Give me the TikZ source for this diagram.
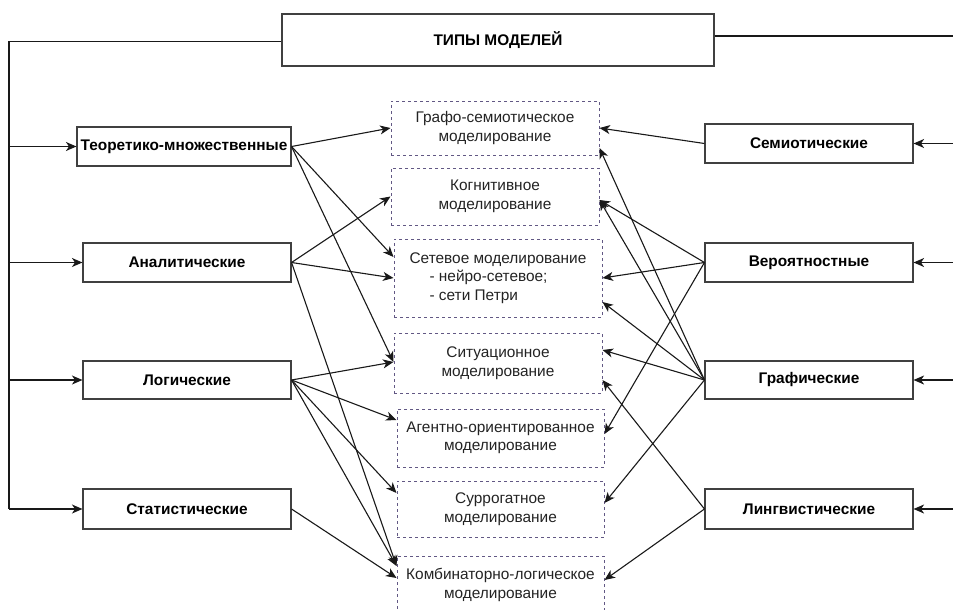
\documentclass[tikz,border=0pt]{standalone}
\usepackage{fontspec}
\setmainfont{Liberation Sans}
\usetikzlibrary{arrows.meta}
\definecolor{dashc}{RGB}{98,88,132}
\definecolor{txtc}{RGB}{35,35,35}
\definecolor{linec}{RGB}{25,25,25}
\begin{document}
\begin{tikzpicture}[x=1pt,y=-1pt,
 box/.style={draw=black!75, line width=1.1pt, font=\fontsize{15.4}{17}\selectfont\bfseries, inner sep=0pt},
 dbox/.style={draw=dashc, line width=1pt, dash pattern=on 3pt off 3pt, text=txtc, font=\fontsize{15.4}{18.5}\selectfont, align=center, inner sep=0pt},
 arr/.style={-{Stealth[length=10.5pt,width=9pt,inset=3pt]}, line width=1.1pt, draw=linec},
 ln/.style={line width=1.1pt, draw=linec}]
\useasboundingbox (0,0) rectangle (953,610);
\clip (0,0) rectangle (953,610);

% top
\node[box, minimum width=432pt, minimum height=52pt] (top) at (498,40) {ТИПЫ МОДЕЛЕЙ};

% left boxes
\node[box, minimum width=214pt, minimum height=39pt] (teo) at (184,146.5) {Теоретико-множественные};
\node[box, minimum width=208pt, minimum height=39pt] (ana) at (187,262.5) {Аналитические};
\node[box, minimum width=208pt, minimum height=38pt] (log) at (187,380) {Логические};
\node[box, minimum width=208pt, minimum height=40pt] (sta) at (187,509) {Статистические};

% right boxes
\node[box, minimum width=208pt, minimum height=39pt] (sem) at (809,143.5) {Семиотические};
\node[box, minimum width=208pt, minimum height=39pt] (ver) at (809,262.5) {Вероятностные};
\node[box, minimum width=208pt, minimum height=38pt] (gra) at (809,380) {Графические};
\node[box, minimum width=208pt, minimum height=40pt] (lin) at (809,509) {Лингвистические};

% middle dashed boxes
\node[dbox, minimum width=208pt, minimum height=54pt] (m1) at (495,128) {Графо-семиотическое\\моделирование};
\node[dbox, minimum width=208pt, minimum height=57pt] (m2) at (495,196.5) {Когнитивное\\моделирование};
\node[dbox, minimum width=208pt, minimum height=78pt, align=left] (m3) at (498,278) {Сетевое моделирование\\\hspace*{20pt}- нейро-сетевое;\\\hspace*{20pt}- сети Петри};
\node[dbox, minimum width=208pt, minimum height=60pt] (m4) at (498,363) {Ситуационное\\моделирование};
\node[dbox, minimum width=207pt, minimum height=58pt] (m5) at (500.5,438) {Агентно-ориентированное\\моделирование};
\node[dbox, minimum width=207pt, minimum height=56pt] (m6) at (500.5,509) {Суррогатное\\моделирование};
\node[dbox, minimum width=207pt, minimum height=58pt] (m7) at (500.5,585) {Комбинаторно-логическое\\моделирование};

% left trunk
\coordinate (lc) at (9,41.5);
\draw[ln] ([yshift=-1.5pt]top.west) -- (lc) -- (lc |- sta.west);
\draw[arr] (lc |- teo.west) -- (teo.west);
\draw[arr] (lc |- ana.west) -- (ana.west);
\draw[arr] (lc |- log.west) -- (log.west);
\draw[arr] (lc |- sta.west) -- (sta.west);

% right trunk
\coordinate (rc) at (953,36);
\draw[ln] ([yshift=4pt]top.east) -- (rc);
\draw[arr] (rc |- sem.east) -- (sem.east);
\draw[arr] (rc |- ver.east) -- (ver.east);
\draw[arr] (rc |- gra.east) -- (gra.east);
\draw[arr] (rc |- lin.east) -- (lin.east);

% left connectors
\draw[arr] (teo.east) -- (m1.west);
\draw[arr] (teo.east) -- ([yshift=21pt]m3.west);
\draw[arr] (teo.east) -- ([yshift=1pt]m4.west);
\draw[arr] (ana.east) -- (m2.west);
\draw[arr] (ana.east) -- (m3.west);
\draw[arr] (ana.east) -- ([yshift=19pt]m7.west);
\draw[arr] (log.east) -- ([yshift=1pt]m4.west);
\draw[arr] (log.east) -- ([yshift=18pt]m5.west);
\draw[arr] (log.east) -- ([yshift=16pt]m6.west);
\draw[arr] (log.east) -- ([yshift=19pt]m7.west);
\draw[arr] (sta.east) -- ([yshift=7pt]m7.west);

% right connectors
\draw[arr] (sem.west) -- (m1.east);
\draw[arr] (gra.west) -- ([yshift=-20pt]m1.east);
\draw[arr] (ver.west) -- ([yshift=-3.5pt]m2.east);
\draw[arr] (gra.west) -- ([yshift=-3.5pt]m2.east);
\draw[arr] (ver.west) -- (m3.east);
\draw[arr] (gra.west) -- ([yshift=-24pt]m3.east);
\draw[arr] (gra.west) -- ([yshift=13pt]m4.east);
\draw[arr] (lin.west) -- ([yshift=-17pt]m4.east);
\draw[arr] (ver.west) -- ([yshift=4pt]m5.east);
\draw[arr] (gra.west) -- ([yshift=6pt]m6.east);
\draw[arr] (lin.west) -- ([yshift=5pt]m7.east);
\end{tikzpicture}
\end{document}
